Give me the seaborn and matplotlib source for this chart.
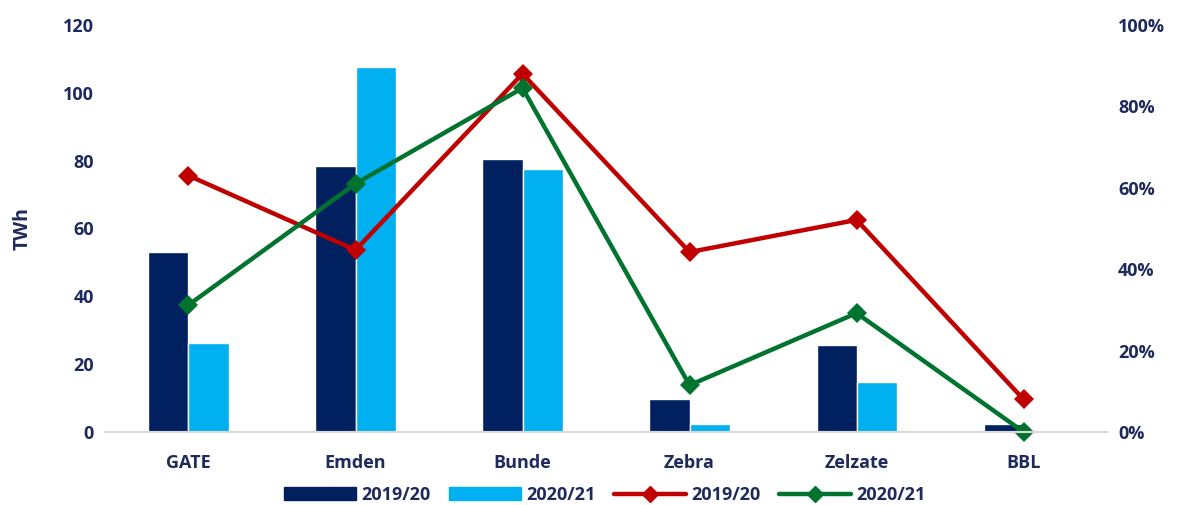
import pandas as pd
import numpy as np
import seaborn as sns
import matplotlib.pyplot as plt
from matplotlib.lines import Line2D
from matplotlib.patches import Patch

# data
points = ["GATE", "Emden", "Bunde", "Zebra", "Zelzate", "BBL"]
years = ["2019/20", "2020/21"]
twh_1920 = [53, 78.5, 80.5, 9.7, 25.7, 2.4]
twh_2021 = [26.3, 107.5, 77.5, 2.4, 14.7, 0]
util_1920 = [0.63, 0.447, 0.88, 0.442, 0.521, 0.08]
util_2021 = [0.312, 0.61, 0.845, 0.115, 0.292, 0.0]

bar_colors = ["#002060", "#00B0F0"]
line_colors = ["#C00000", "#00732F"]
text_color = "#1F2A5C"

sns.set_style("white")
plt.rcParams['font.family'] = ['Open Sans', 'DejaVu Sans']
plt.rcParams['font.weight'] = 'bold'

bars = pd.DataFrame({
    "point": points * 2,
    "year": [years[0]] * len(points) + [years[1]] * len(points),
    "twh": twh_1920 + twh_2021,
})
lines = pd.DataFrame({
    "pos": list(range(len(points))) * 2,
    "year": [years[0]] * len(points) + [years[1]] * len(points),
    "util": util_1920 + util_2021,
})

fig = plt.figure(figsize=(11.86, 5.05), dpi=100)
ax = fig.add_axes([0.0885, 0.1446, 0.845, 0.806])
sns.barplot(data=bars, x="point", y="twh", hue="year", palette=bar_colors,
            width=0.48, saturation=1, ax=ax, legend=False)

# utilisation lines on the right axis
ax2 = ax.twinx()
sns.lineplot(data=lines, x="pos", y="util", hue="year", palette=line_colors,
             marker="D", markersize=10, markeredgewidth=0, linewidth=3.2,
             ax=ax2, legend=False)

ax.set_xlim(-0.5, len(points) - 0.5)
ax.set_ylim(0, 120)
ax.set_yticks(np.arange(0, 121, 20))
ax2.set_ylim(0, 1)
ax2.set_yticks(np.arange(0, 1.01, 0.2))
ax2.set_yticklabels([f"{int(round(v * 100))}%" for v in np.arange(0, 1.01, 0.2)])

ax.set_xlabel("")
ax.set_ylabel("TWh", fontsize=14, fontweight="bold", color=text_color, labelpad=22)
ax2.set_ylabel("")

for a in (ax, ax2):
    for s in ["left", "right", "top"]:
        a.spines[s].set_visible(False)
    a.spines["bottom"].set_color("#D9D9D9")
    a.spines["bottom"].set_linewidth(1.5)
    a.tick_params(axis="both", length=0, labelsize=13, labelcolor=text_color, pad=8)
    for lbl in a.get_xticklabels() + a.get_yticklabels():
        lbl.set_fontweight("bold")
ax.tick_params(axis="x", pad=16)
for ln in ax2.get_lines():
    ln.set_clip_on(False)

handles = [
    Patch(color=bar_colors[0], label=years[0]),
    Patch(color=bar_colors[1], label=years[1]),
    Line2D([], [], color=line_colors[0], marker="D", markersize=8, linewidth=3.2, label=years[0]),
    Line2D([], [], color=line_colors[1], marker="D", markersize=8, linewidth=3.2, label=years[1]),
]
fig.legend(handles=handles, loc="lower center", bbox_to_anchor=(0.51, -0.03), ncol=4,
           frameon=False, handlelength=4, columnspacing=1.0,
           handletextpad=0.3, labelcolor=text_color, prop={"weight": "bold", "size": 13})

fig.savefig("out.png", dpi=100)
